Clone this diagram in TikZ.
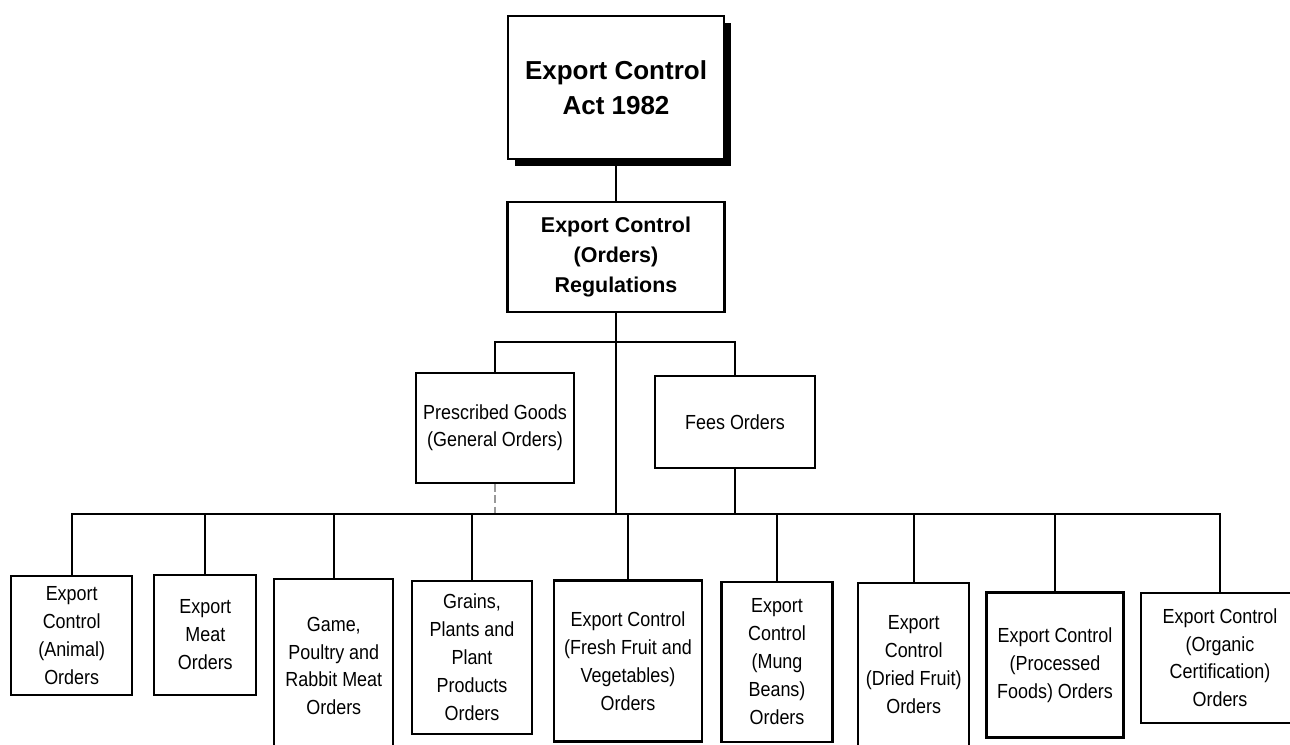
\documentclass[tikz,border=0pt]{standalone}
\usepackage{fontspec}
\setmainfont{Liberation Sans}
\newfontfamily\narrowfont{Liberation Sans}[FakeStretch=0.88]
\usetikzlibrary{shadows}

\tikzset{
	orgbox/.style={draw, line width=1.2pt, fill=white, align=center, inner sep=0pt},
	dims/.style 2 args={minimum width=#1*0.02cm, minimum height=#2*0.02cm},
	orderbox/.style={orgbox, font=\narrowfont\fontsize{11.6}{15.9}\selectfont},
	link/.style={line width=1.2pt, line cap=rect},
}

\begin{document}
\begin{tikzpicture}[x=0.02cm, y=-0.02cm]
		%%%%% START %%%%%
		\useasboundingbox (0,0) rectangle (1290,744);
		
		% act and regulations
		\node[orgbox, dims={216}{143}, drop shadow={fill=black, opacity=1, shadow xshift=0.14cm, shadow yshift=-0.14cm}, font=\bfseries\fontsize{14.8}{19.8}\selectfont] (act) at (616, 87.5) {Export Control\\Act 1982};
		\node[orgbox, dims={217}{110}, font=\bfseries\fontsize{12.2}{17}\selectfont] (regs) at (616, 257) {Export Control\\(Orders)\\Regulations};
		
		% middle row
		\node[orderbox, dims={158}{110}] (presc) at (495, 427.7) {Prescribed Goods\\(General Orders)};
		\node[orderbox, dims={160}{92}] (fees) at (735, 422) {Fees Orders};
		
		% orders
		\node[orderbox, dims={121}{119}] (animal) at (71.7, 635.5) {Export\\Control\\(Animal)\\Orders};
		\node[orderbox, dims={102}{120}] (meat) at (205.3, 635) {Export\\Meat\\Orders};
		\node[orderbox, dims={119}{174}] (game) at (333.8, 666) {Game,\\Poultry and\\Rabbit Meat\\Orders};
		\node[orderbox, dims={120}{153}] (grains) at (472, 657.5) {Grains,\\Plants and\\Plant\\Products\\Orders};
		\node[orderbox, dims={148}{161}] (fresh) at (628, 661) {Export Control\\(Fresh Fruit and\\Vegetables)\\Orders};
		\node[orderbox, dims={111}{160}] (mung) at (777, 661.7) {Export\\Control\\(Mung\\Beans)\\Orders};
		\node[orderbox, dims={111}{163}] (dried) at (913.7, 664.5) {Export\\Control\\(Dried Fruit)\\Orders};
		\node[orderbox, dims={137}{145}] (processed) at (1055, 665) {Export Control\\(Processed\\Foods) Orders};
		\node[orderbox, dims={158}{130}] (organic) at (1220, 657.7) {Export Control\\(Organic\\Certification)\\Orders};
		
		% connectors
		\coordinate (midbus) at (616, 342);
		\coordinate (lowbus) at (616, 514);
		\draw[link] (act) -- (regs);
		\draw[link] (regs) -- (lowbus);
		\draw[link] (presc.north) -- (presc.north |- midbus) -- (fees.north |- midbus) -- (fees.north);
		\draw[link] (fees) -- (fees.south |- lowbus);
		\draw[gray!80, line width=0.8pt, dash pattern=on 4.5pt off 2pt] (presc) -- (presc.south |- lowbus);
		\draw[link] (animal.north |- lowbus) -- (organic.north |- lowbus);
		\foreach \n in {animal,meat,game,grains,fresh,mung,dried,processed,organic}
			\draw[link] (\n) -- (\n.north |- lowbus);
		%%%%% END %%%%%
\end{tikzpicture}
\end{document}
